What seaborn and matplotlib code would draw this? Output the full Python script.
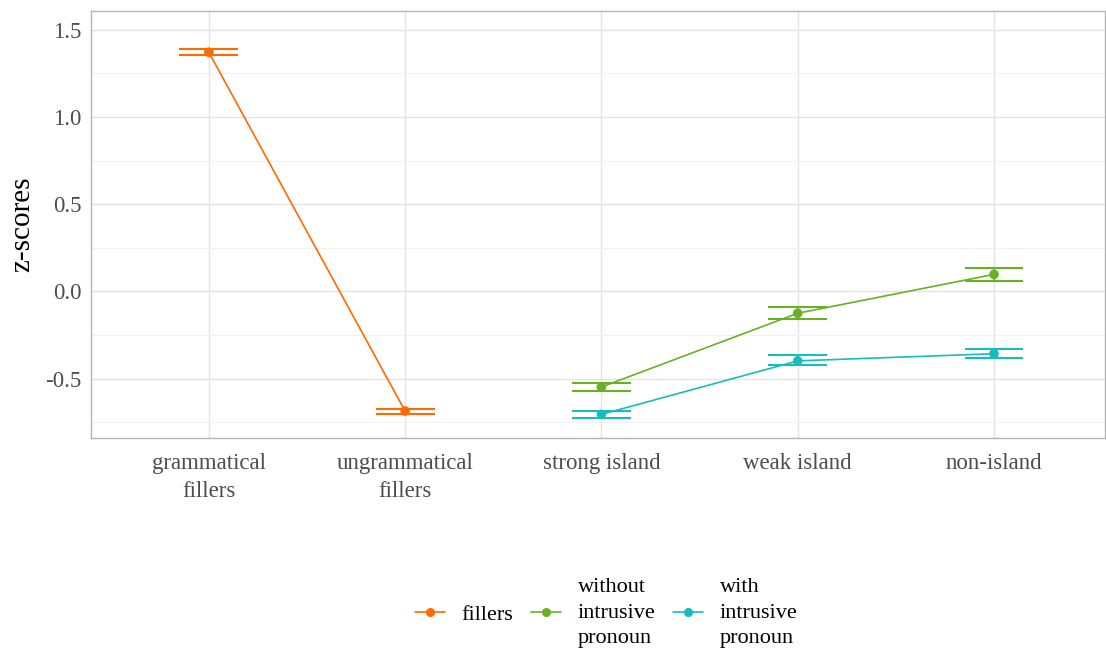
import numpy as np
import pandas as pd
import matplotlib
matplotlib.use("Agg")
import matplotlib.pyplot as plt
import seaborn as sns
from matplotlib.lines import Line2D
from matplotlib.ticker import MultipleLocator

# Conditions on the x axis
categories = ["grammatical\nfillers", "ungrammatical\nfillers",
              "strong island", "weak island", "non-island"]

# Mean z-scores with lower / upper error bounds per series
fillers_x = ["grammatical\nfillers", "ungrammatical\nfillers"]
fillers_mean = [1.372, -0.686]
fillers_lo = [1.358, -0.700]
fillers_hi = [1.389, -0.672]

islands_x = ["strong island", "weak island", "non-island"]
without_mean = [-0.548, -0.125, 0.098]
without_lo = [-0.572, -0.160, 0.062]
without_hi = [-0.523, -0.088, 0.134]

with_mean = [-0.705, -0.398, -0.357]
with_lo = [-0.726, -0.423, -0.384]
with_hi = [-0.684, -0.365, -0.330]

series_names = ["fillers", "without\nintrusive\npronoun", "with\nintrusive\npronoun"]
colors = ["#FF6A00", "#6AB023", "#17BDBD"]

rows = []
for name, xs, m, lo, hi in [
    (series_names[0], fillers_x, fillers_mean, fillers_lo, fillers_hi),
    (series_names[1], islands_x, without_mean, without_lo, without_hi),
    (series_names[2], islands_x, with_mean, with_lo, with_hi),
]:
    for c, a, b, d in zip(xs, m, lo, hi):
        rows.append({"series": name, "condition": c, "pos": categories.index(c),
                     "z": a, "lo": b, "hi": d})
df = pd.DataFrame(rows)

sns.set_theme(style="whitegrid")
plt.rcParams["font.family"] = ["Liberation Serif", "DejaVu Serif"]

fig = plt.figure(figsize=(11.06, 6.51), dpi=100)
ax = fig.add_axes([0.0823, 0.327, 0.9167, 0.656])

palette = dict(zip(series_names, colors))
sns.lineplot(data=df, x="pos", y="z", hue="series", hue_order=series_names,
             palette=palette, ax=ax, linewidth=1.2, legend=False, sort=True)
sns.scatterplot(data=df, x="pos", y="z", hue="series", hue_order=series_names,
                palette=palette, ax=ax, s=48, edgecolor="none", legend=False, zorder=4)

# error bars: vertical range plus horizontal caps
for _, r in df.iterrows():
    col = palette[r["series"]]
    ax.vlines(r["pos"], r["lo"], r["hi"], color=col, linewidth=1.2, zorder=3)
    ax.hlines([r["lo"], r["hi"]], r["pos"] - 0.15, r["pos"] + 0.15,
              color=col, linewidth=1.5, zorder=3)

ax.set_xlim(-0.6, 4.565)
ax.set_xticks(range(len(categories)))
ax.set_xticklabels(categories)
ax.yaxis.set_major_locator(MultipleLocator(0.5))
ax.yaxis.set_minor_locator(MultipleLocator(0.25))
ax.set_ylim(-0.841, 1.608)
ax.set_yticks([-0.5, 0.0, 0.5, 1.0, 1.5])
ax.set_yticklabels([f"{v:.1f}" for v in [-0.5, 0.0, 0.5, 1.0, 1.5]])

ax.grid(which="major", color="#E3E3E3", linewidth=1.0)
ax.grid(which="minor", axis="y", color="#F0F0F0", linewidth=0.8)
ax.set_axisbelow(True)
for s in ax.spines.values():
    s.set_color("#B3B3B3")
    s.set_linewidth(1.0)

ax.tick_params(axis="both", which="major", labelsize=16.5, labelcolor="#4D4D4D",
               length=4, color="#B3B3B3", width=1.0, pad=3)
ax.tick_params(axis="x", pad=7)
ax.tick_params(axis="y", which="minor", length=0)
for lab in ax.get_xticklabels():
    lab.set_linespacing(1.4)

ax.set_xlabel("")
ax.set_ylabel("z-scores", fontsize=21, color="black", labelpad=7)

handles = [Line2D([0], [0], color=c, marker="o", markersize=5.5, linewidth=1.2)
           for c in colors]
leg = fig.legend(handles, series_names, loc="center", bbox_to_anchor=(0.548, 0.058),
                 ncol=3, frameon=False, fontsize=16, handlelength=1.35,
                 handletextpad=0.75, columnspacing=0.8)
for t in leg.get_texts():
    t.set_linespacing(1.45)
    t.set_color("black")

fig.savefig("out.png", dpi=100)
